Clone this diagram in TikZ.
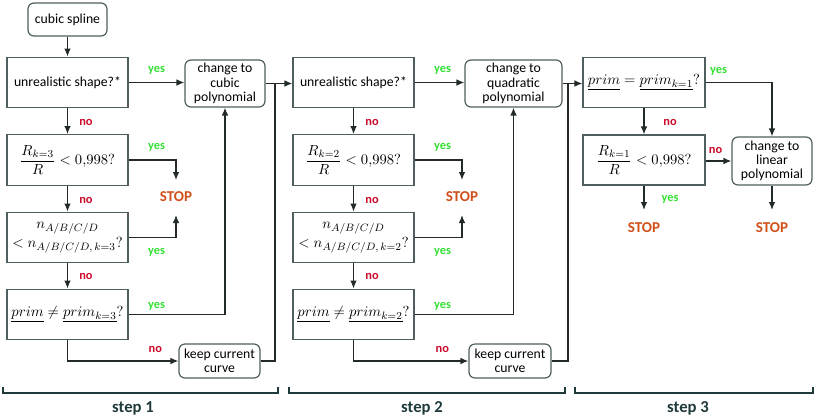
\documentclass[tikz,border=0pt]{standalone}
\usepackage{fontspec}
\setmainfont{Carlito}
\usepackage{amsmath}
\usetikzlibrary{arrows.meta,calc}
\definecolor{boxc}{HTML}{4F5E5E}
\definecolor{linec}{HTML}{222A2A}
\definecolor{yesc}{HTML}{33E033}
\definecolor{noc}{HTML}{CC0A2A}
\definecolor{stopc}{HTML}{D0501A}
\definecolor{stepc}{HTML}{1F3A3A}
\tikzset{
  px/.style={x=0.75pt,y=-0.75pt},
  qbox/.style={draw=boxc,line width=0.9pt,minimum width=90.75pt,minimum height=38pt,inner sep=1pt,align=center,font=\fontsize{10.3}{10.7}\selectfont},
  mbox/.style={qbox,font=\fontsize{11.3}{13}\selectfont},
  rbox/.style={draw=boxc,line width=0.9pt,rounded corners=4.5pt,inner sep=1pt,align=center,font=\fontsize{10.3}{10.7}\selectfont},
  conn/.style={draw=linec,line width=1pt,-{Latex[length=6pt,width=5pt]}},
  plain/.style={draw=linec,line width=1pt},
  yeslab/.style={text=yesc,font=\bfseries\fontsize{9.3}{10}\selectfont,inner sep=0pt},
  nolab/.style={text=noc,font=\bfseries\fontsize{9.3}{10}\selectfont,inner sep=0pt},
  stoplab/.style={text=stopc,font=\bfseries\fontsize{11.3}{12}\selectfont,inner sep=1pt},
  steplab/.style={text=stepc,font=\bfseries\fontsize{12.5}{14}\selectfont,inner sep=0pt},
  brace/.style={draw=stepc,line width=1.1pt}
}
\newcommand{\mfrac}[1]{$\displaystyle\frac{R_{k=#1}}{R}<0{,}998?$}
\newcommand{\mcount}[1]{$n_{A/B/C/D}$\\[1pt]$<n_{A/B/C/D,\,k=#1}?$}
\newcommand{\mprim}[2]{$\underline{prim}#1\underline{prim_{k=#2}}?$}
\begin{document}
\begin{tikzpicture}[px]
\useasboundingbox (0,0) rectangle (817,419);
% ---------- step 1
\node[rbox,minimum width=59.25pt,minimum height=24.75pt] (spline) at (67.5,19.5) {cubic spline};
\node[qbox] (u1) at (67.5,82.5) {unrealistic shape?*};
\node[rbox,minimum width=60pt,minimum height=35.25pt] (c1) at (225,83.5) {change to\\cubic\\polynomial};
\node[mbox] (r1) at (67.5,160) {\mfrac{3}};
\node[mbox] (n1) at (67.5,237.5) {\mcount{3}};
\node[mbox] (p1) at (67.5,314.5) {\mprim{\neq}{3}};
\node[rbox,minimum width=60.75pt,minimum height=25.5pt] (k1) at (219.5,361) {keep current\\curve};
\node[stoplab] (s1) at (176,197) {STOP};
\coordinate (s1t) at ($(s1)+(0,-17)$);
\coordinate (s1b) at ($(s1)+(0,18)$);
\coordinate (j1) at (275,83.5);
% ---------- step 2
\node[qbox] (u2) at (353.5,82.5) {unrealistic shape?*};
\node[rbox,minimum width=72.75pt,minimum height=35.25pt] (c2) at (513.5,83.5) {change to\\quadratic\\polynomial};
\node[mbox] (r2) at (353.5,160) {\mfrac{2}};
\node[mbox] (n2) at (353.5,237.5) {\mcount{2}};
\node[mbox] (p2) at (353.5,314.5) {\mprim{\neq}{2}};
\node[rbox,minimum width=61.5pt,minimum height=25.5pt] (k2) at (510,361) {keep current\\curve};
\node[stoplab] (s2) at (462,197) {STOP};
\coordinate (s2t) at ($(s2)+(0,-17)$);
\coordinate (s2b) at ($(s2)+(0,18)$);
\coordinate (j2) at (568,83.5);
% ---------- step 3
\node[mbox,minimum width=91.5pt] (p3) at (644,82.5) {\mprim{=}{1}};
\node[mbox,minimum width=91.5pt,minimum height=37.5pt] (r3) at (644,160) {\mfrac{1}};
\node[rbox,minimum width=60pt,minimum height=36pt] (l3) at (772,161) {change to\\linear\\polynomial};
\node[stoplab] (s3) at (644,228) {STOP};
\node[stoplab] (s4) at (772,228) {STOP};
\coordinate (s3t) at ($(s3)+(0,-18)$);
\coordinate (s4t) at ($(s4)+(0,-18)$);
% ---------- connectors step 1
\draw[conn] (spline) -- (u1);
\draw[conn] (u1) -- (c1.west|-u1.east);
\node[yeslab] at ($(u1.east)+(28,-12.5)$) {yes};
\draw[conn] (u1) -- (r1);
\node[nolab] at ($(u1.south)+(18.5,14)$) {no};
\draw[conn] (r1.east) -| (s1t);
\node[yeslab] at ($(r1.east)+(28,-13)$) {yes};
\draw[conn] (r1) -- (n1);
\node[nolab] at ($(r1.south)+(18.5,15)$) {no};
\draw[conn] (n1.east) -| (s1b);
\node[yeslab] at ($(n1.east)+(28,14.5)$) {yes};
\draw[conn] (n1) -- (p1);
\node[nolab] at ($(n1.south)+(18.5,13)$) {no};
\draw[conn] (p1.east) -| (c1.south);
\node[yeslab] at ($(p1.east)+(28,-8.5)$) {yes};
\draw[conn] (p1.south) |- (k1.west);
\node[nolab] at ($(k1.west)+(-23,-12)$) {no};
\draw[plain] (k1.east) -| (j1);
\draw[conn] (c1.east) -- (u2.west|-c1.east);
% ---------- connectors step 2
\draw[conn] (u2) -- (c2.west|-u2.east);
\node[yeslab] at ($(u2.east)+(28,-12.5)$) {yes};
\draw[conn] (u2) -- (r2);
\node[nolab] at ($(u2.south)+(18.5,14)$) {no};
\draw[conn] (r2.east) -| (s2t);
\node[yeslab] at ($(r2.east)+(28,-13)$) {yes};
\draw[conn] (r2) -- (n2);
\node[nolab] at ($(r2.south)+(18.5,15)$) {no};
\draw[conn] (n2.east) -| (s2b);
\node[yeslab] at ($(n2.east)+(28,14.5)$) {yes};
\draw[conn] (n2) -- (p2);
\node[nolab] at ($(n2.south)+(18.5,13)$) {no};
\draw[conn] (p2.east) -| (c2.south);
\node[yeslab] at ($(p2.east)+(28,-8.5)$) {yes};
\draw[conn] (p2.south) |- (k2.west);
\node[nolab] at ($(k2.west)+(-26,-12)$) {no};
\draw[plain] (k2.east) -| (j2);
\draw[conn] (c2.east) -- (p3.west|-c2.east);
% ---------- connectors step 3
\draw[conn] (p3.east) -| (l3.north);
\node[yeslab] at ($(p3.east)+(13,-11.5)$) {yes};
\draw[conn] (p3) -- (r3);
\node[nolab] at ($(p3.south)+(26,14)$) {no};
\draw[conn] (r3.east|-l3.west) -- (l3.west);
\node[nolab] at ($(r3.east)+(10,-10)$) {no};
\draw[conn] (r3.south) -- (s3t);
\node[yeslab] at ($(r3.south)+(26,14)$) {yes};
\draw[conn] (l3.south) -- (s4t);
% ---------- brackets
\draw[brace] (3,387) -- (3,393) -- (278,393) -- (278,387);
\draw[brace] (289,387) -- (289,393) -- (565,393) -- (565,387);
\draw[brace] (575,387) -- (575,393) -- (813,393) -- (813,387);
\node[steplab] (t1) at (133,408) {step 1};
\node[steplab] (t2) at (422,408) {step 2};
\node[steplab] (t3) at (688,408) {step 3};
\end{tikzpicture}
\end{document}
